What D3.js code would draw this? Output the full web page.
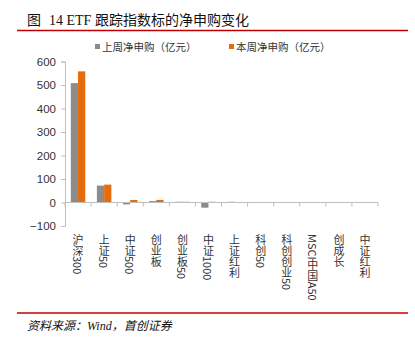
<!DOCTYPE html>
<html>
<head>
<meta charset="utf-8">
<script src="https://cdn.jsdelivr.net/npm/d3@7"></script>
<style>
  html, body { margin: 0; padding: 0; background: #fff; }
  svg { display: block; }
  .vlab { writing-mode: vertical-rl; text-orientation: mixed; }
</style>
</head>
<body>
<div id="chart"></div>
<script>
// ETF 跟踪指数标的净申购（亿元）
const categories = ["沪深300", "上证50", "中证500", "创业板", "创业板50", "中证1000",
  "上证红利", "科创50", "科创创业50", "MSCI中国A50", "创成长", "中证红利"];
const lastWeek = [508, 72, -8, 6, 3, -22, 3, -2, 0, 0, 0, 0];
const thisWeek = [558, 76, 11, 11, 3, 3, 0, 0, 0, 0, 0, -2];
const seriesNames = ["上周净申购（亿元）", "本周净申购（亿元）"];
const yTicks = [-100, 0, 100, 200, 300, 400, 500, 600];

const W = 415, H = 344;
const colors = ["#8c8c8c", "#e46c0a"];
const cjk = "'Noto Sans CJK SC', 'Noto Sans', sans-serif";

const svg = d3.select("#chart").append("svg").attr("width", W).attr("height", H);

// Title and its rule
const title = svg.append("text").attr("x", 27).attr("y", 25)
  .attr("font-size", 14).attr("fill", "#111").attr("font-family", cjk);
title.append("tspan").text("图");
title.append("tspan").attr("dx", 8).attr("font-family", "'Liberation Serif', serif").text("14 ETF ");
title.append("tspan").text("跟踪指数标的净申购变化");
svg.append("line").attr("x1", 17).attr("x2", 408).attr("y1", 30.5).attr("y2", 30.5)
  .attr("stroke", "#c00000").attr("stroke-width", 1.5);

// Scales
const x0 = d3.scaleBand().domain(categories).range([65, 378]).paddingInner(0).paddingOuter(0);
const x1 = d3.scaleBand().domain([0, 1]).range([0, x0.bandwidth()]).paddingInner(0).paddingOuter(0.8);
const y = d3.scaleLinear().domain([-100, 600]).range([226, 61.5]);

// Y axis
const yAxis = svg.append("g").attr("transform", "translate(65,0)")
  .call(d3.axisLeft(y).tickValues(yTicks).tickSize(4).tickPadding(5).tickFormat(d => d < 0 ? "−" + Math.abs(d) : d));
yAxis.selectAll("path, line").attr("stroke", "#bfbfbf");
yAxis.selectAll("text").attr("font-size", 11.5).attr("fill", "#333")
  .attr("font-family", "'Liberation Sans', Arial, sans-serif");

// Bars
const series = [lastWeek, thisWeek];
series.forEach((vals, s) => {
  svg.append("g").selectAll("rect").data(categories).join("rect")
    .attr("x", (c) => x0(c) + x1(s))
    .attr("width", x1.bandwidth())
    .attr("y", (c, i) => y(Math.max(0, vals[i])))
    .attr("height", (c, i) => Math.abs(y(vals[i]) - y(0)))
    .attr("fill", colors[s]);
});

// X axis along zero, ticks at band boundaries
const xg = svg.append("g");
xg.append("line").attr("x1", 65).attr("x2", 378).attr("y1", y(0)).attr("y2", y(0))
  .attr("stroke", "#bfbfbf");
xg.selectAll("line.tk").data(d3.range(categories.length + 1)).join("line")
  .attr("class", "tk")
  .attr("x1", i => 65 + i * x0.step()).attr("x2", i => 65 + i * x0.step())
  .attr("y1", y(0)).attr("y2", y(0) + 4).attr("stroke", "#bfbfbf");

// Vertical category labels
svg.append("g").selectAll("text").data(categories).join("text")
  .attr("class", "vlab")
  .attr("x", c => x0(c) + x0.bandwidth() / 2)
  .attr("y", 234)
  .attr("font-size", 11)
  .attr("font-family", cjk)
  .attr("fill", "#333")
  .text(c => c);

// Legend
const legend = svg.append("g").attr("font-family", cjk).attr("font-size", 10.5).attr("fill", "#333");
[95, 229].forEach((lx, i) => {
  legend.append("rect").attr("x", lx).attr("y", 44).attr("width", 5).attr("height", 5).attr("fill", colors[i]);
  legend.append("text").attr("x", lx + 7).attr("y", 50.5).attr("fill", "#333").text(seriesNames[i]);
});

// Source line
svg.append("line").attr("x1", 17).attr("x2", 408).attr("y1", 313).attr("y2", 313)
  .attr("stroke", "#c00000").attr("stroke-width", 1.5);
const src = svg.append("text").attr("x", 27).attr("y", 330).attr("font-size", 12)
  .attr("font-style", "italic").attr("fill", "#111").attr("font-family", cjk);
src.append("tspan").text("资料来源：");
src.append("tspan").attr("font-family", "'Liberation Serif', serif").text("Wind");
src.append("tspan").text("，首创证券");
</script>
</body>
</html>
